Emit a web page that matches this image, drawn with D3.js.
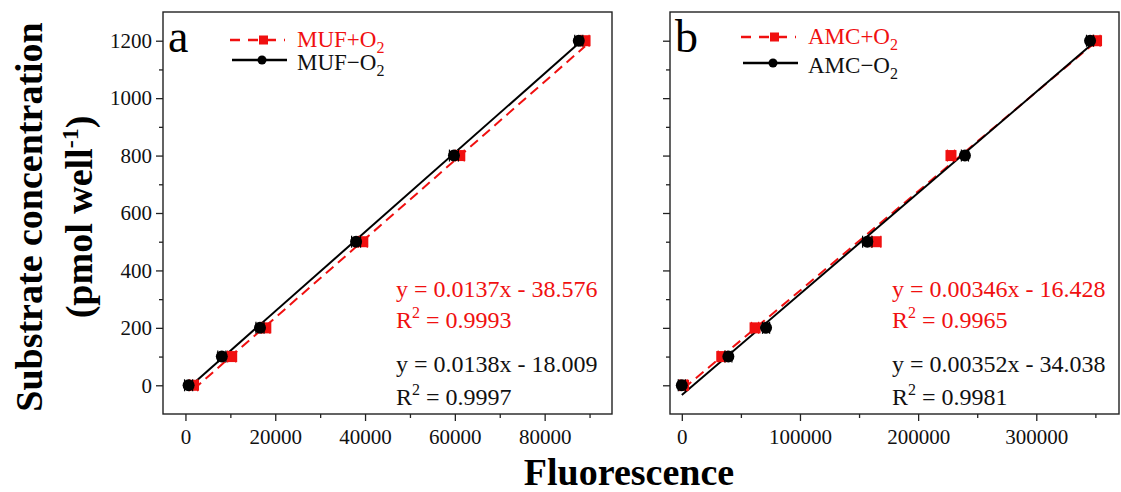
<!DOCTYPE html>
<html>
<head>
<meta charset="utf-8">
<script src="https://cdn.jsdelivr.net/npm/d3@7"></script>
<style>
  body { margin: 0; background: #fff; }
  svg text { font-family: "Liberation Serif", "Times New Roman", serif; }
</style>
</head>
<body>
<div id="chart"></div>
<script>
// concentrations (y values) shared by both panels
var concentration = [0, 100, 200, 500, 800, 1200];

// panel a : MUF
var mufPlusX  = [1800, 10300, 17900, 39500, 61100, 89000];
var mufMinusX = [700, 8100, 16600, 38000, 59800, 87600];
var mufPlusErr  = [900, 900, 900, 1000, 1000, 900];
var mufMinusErr = [900, 900, 900, 1000, 1000, 900];

// panel b : AMC
var amcPlusX  = [1500, 33800, 62000, 164400, 227800, 351000];
var amcMinusX = [0, 39400, 71300, 157000, 239600, 345500];
var amcPlusErr  = [3000, 3000, 3000, 4000, 3000, 3000];
var amcMinusErr = [3000, 3000, 3000, 4000, 3000, 3000];

// fitted equations (as printed)
var mufPlusFit  = { slope: 0.0137, intercept: -38.576, r2: "0.9993", text: "y = 0.0137x - 38.576" };
var mufMinusFit = { slope: 0.0138, intercept: -18.009, r2: "0.9997", text: "y = 0.0138x - 18.009" };
var amcPlusFit  = { slope: 0.00346, intercept: -16.428, r2: "0.9965", text: "y = 0.00346x - 16.428" };
var amcMinusFit = { slope: 0.00352, intercept: -34.038, r2: "0.9981", text: "y = 0.00352x - 34.038" };

// ticks
var yMajor = [0, 200, 400, 600, 800, 1000, 1200];
var yMinor = [100, 300, 500, 700, 900, 1100];
var xMajorA = [0, 20000, 40000, 60000, 80000];
var xMinorA = [10000, 30000, 50000, 70000, 90000];
var xMajorB = [0, 100000, 200000, 300000];
var xMinorB = [50000, 150000, 250000, 350000];

var W = 1121, H = 492;
var RED = "#f01010";
var svg = d3.select("#chart").append("svg").attr("width", W).attr("height", H);

var plotTop = 12, plotBottom = 414;
var y = d3.scaleLinear().domain([-100, 1300]).range([plotBottom, plotTop]);

function panel(opt) {
  var x = d3.scaleLinear().domain(opt.xDomain).range([opt.left, opt.right]);
  var g = svg.append("g");

  // frame
  g.append("rect")
    .attr("x", opt.left).attr("y", plotTop)
    .attr("width", opt.right - opt.left).attr("height", plotBottom - plotTop)
    .attr("fill", "none").attr("stroke", "#222").attr("stroke-width", 1.4);

  // axes
  g.append("g").attr("transform", "translate(0," + plotBottom + ")")
    .call(d3.axisBottom(x).tickValues(opt.xMajor).tickSize(7).tickPadding(8).tickFormat(d3.format("d")));
  g.append("g").attr("transform", "translate(0," + plotBottom + ")")
    .call(d3.axisBottom(x).tickValues(opt.xMinor).tickSize(4).tickFormat(""));
  g.append("g").attr("transform", "translate(" + opt.left + ",0)")
    .call(d3.axisLeft(y).tickValues(yMajor).tickSize(7).tickPadding(4).tickFormat(opt.showY ? d3.format("d") : ""));
  g.append("g").attr("transform", "translate(" + opt.left + ",0)")
    .call(d3.axisLeft(y).tickValues(yMinor).tickSize(4).tickFormat(""));
  g.selectAll(".domain").remove();
  g.selectAll(".tick line").attr("stroke", "#222").attr("stroke-width", 1.3);
  g.selectAll(".tick text").attr("font-size", 21).attr("fill", "#111")
    .style("font-family", "'Liberation Serif', 'Times New Roman', serif");

  // fit lines
  function fitLine(xs, fit, color, dash) {
    var ext = d3.extent(xs);
    g.append("path")
      .datum(ext)
      .attr("fill", "none").attr("stroke", color).attr("stroke-width", 2)
      .attr("stroke-dasharray", dash)
      .attr("d", d3.line().x(function(d) { return x(d); })
                          .y(function(d) { return y(fit.slope * d + fit.intercept); }));
  }
  fitLine(opt.plusX, opt.plusFit, RED, "10,6");
  fitLine(opt.minusX, opt.minusFit, "#000", null);

  // error bars
  function errBars(xs, errs, color) {
    var eb = g.append("g").attr("stroke", color).attr("stroke-width", 1.2);
    xs.forEach(function(v, i) {
      var cy = y(concentration[i]);
      eb.append("line").attr("x1", x(v - errs[i])).attr("x2", x(v + errs[i])).attr("y1", cy).attr("y2", cy);
      eb.append("line").attr("x1", x(v - errs[i])).attr("x2", x(v - errs[i])).attr("y1", cy - 6).attr("y2", cy + 6);
      eb.append("line").attr("x1", x(v + errs[i])).attr("x2", x(v + errs[i])).attr("y1", cy - 6).attr("y2", cy + 6);
    });
  }
  errBars(opt.plusX, opt.plusErr, RED);
  g.selectAll(null).data(opt.plusX).enter().append("rect")
    .attr("x", function(d) { return x(d) - 5.5; })
    .attr("y", function(d, i) { return y(concentration[i]) - 5.5; })
    .attr("width", 11).attr("height", 11).attr("fill", RED);
  errBars(opt.minusX, opt.minusErr, "#000");
  g.selectAll(null).data(opt.minusX).enter().append("circle")
    .attr("cx", function(d) { return x(d); })
    .attr("cy", function(d, i) { return y(concentration[i]); })
    .attr("r", 6).attr("fill", "#000");

  // panel letter
  g.append("text").attr("x", opt.left + 5).attr("y", 52)
    .attr("font-size", 46).attr("fill", "#000").text(opt.letter);

  // legend
  var lg = g.append("g");
  var lx = opt.legendX;
  lg.append("line").attr("x1", lx).attr("x2", lx + 55)
    .attr("y1", opt.legendY[0] - 7).attr("y2", opt.legendY[0] - 7)
    .attr("stroke", RED).attr("stroke-width", 2.5).attr("stroke-dasharray", "10,8");
  lg.append("rect").attr("x", lx + 29).attr("y", opt.legendY[0] - 11.5)
    .attr("width", 9).attr("height", 9).attr("fill", RED);
  lg.append("line").attr("x1", lx + 2).attr("x2", lx + 57)
    .attr("y1", opt.legendY[1] - 10).attr("y2", opt.legendY[1] - 10)
    .attr("stroke", "#000").attr("stroke-width", 2.5);
  lg.append("circle").attr("cx", lx + 32).attr("cy", opt.legendY[1] - 10).attr("r", 4.5).attr("fill", "#000");

  var names = [opt.name + "+O", opt.name + "\u2212O"];
  [RED, "#000"].forEach(function(c, i) {
    var t = lg.append("text").attr("x", lx + 67).attr("y", opt.legendY[i])
      .attr("font-size", 23).attr("fill", i === 0 ? RED : "#111");
    t.append("tspan").text(names[i]);
    t.append("tspan").attr("dy", 6).attr("font-size", 16).text("2");
  });

  // equations
  function equation(fit, color, y1, y2) {
    g.append("text").attr("x", opt.eqX).attr("y", y1).attr("font-size", 24).attr("fill", color).text(fit.text);
    var t = g.append("text").attr("x", opt.eqX).attr("y", y2).attr("font-size", 24).attr("fill", color);
    t.append("tspan").text("R");
    t.append("tspan").attr("dy", -10).attr("font-size", 16).text("2");
    t.append("tspan").attr("dy", 10).text(" = " + fit.r2);
  }
  equation(opt.plusFit, RED, 297, 328);
  equation(opt.minusFit, "#111", 372, 405);
}

panel({
  left: 163, right: 612, xDomain: [-5000, 95000],
  xMajor: xMajorA, xMinor: xMinorA, showY: true,
  plusX: mufPlusX, minusX: mufMinusX, plusErr: mufPlusErr, minusErr: mufMinusErr,
  plusFit: mufPlusFit, minusFit: mufMinusFit,
  letter: "a", name: "MUF", legendX: 230, legendY: [47, 70], eqX: 396
});

panel({
  left: 670, right: 1119, xDomain: [-10000, 370000],
  xMajor: xMajorB, xMinor: xMinorB, showY: false,
  plusX: amcPlusX, minusX: amcMinusX, plusErr: amcPlusErr, minusErr: amcMinusErr,
  plusFit: amcPlusFit, minusFit: amcMinusFit,
  letter: "b", name: "AMC", legendX: 741, legendY: [44, 73], eqX: 892
});

// axis titles
svg.append("text")
  .attr("transform", "translate(42,217) rotate(-90)")
  .attr("text-anchor", "middle").attr("font-size", 38).attr("font-weight", "bold")
  .text("Substrate concentration");
var yl = svg.append("text")
  .attr("transform", "translate(92,217) rotate(-90)")
  .attr("text-anchor", "middle").attr("font-size", 38).attr("font-weight", "bold");
yl.append("tspan").text("(pmol well");
yl.append("tspan").attr("dy", -14).attr("font-size", 24).text("-1");
yl.append("tspan").attr("dy", 14).text(")");

svg.append("text")
  .attr("x", 629).attr("y", 485)
  .attr("text-anchor", "middle").attr("font-size", 38).attr("font-weight", "bold")
  .text("Fluorescence");
</script>
</body>
</html>
